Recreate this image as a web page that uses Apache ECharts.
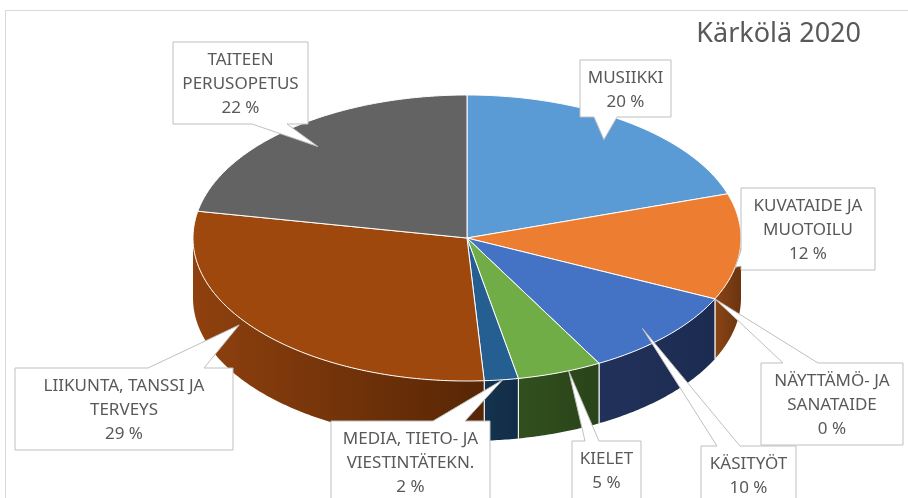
<!DOCTYPE html>
<html>
<head>
<meta charset="utf-8">
<script src="https://cdn.jsdelivr.net/npm/echarts@6/dist/echarts.min.js"></script>
<style>
  html, body { margin: 0; padding: 0; background: #fff; }
  #chart { width: 908px; height: 498px; }
</style>
</head>
<body>
<div id="chart"></div>
<script>
const categories = [
  "MUSIIKKI",
  "KUVATAIDE JA\nMUOTOILU",
  "NÄYTTÄMÖ- JA\nSANATAIDE",
  "KÄSITYÖT",
  "KIELET",
  "MEDIA, TIETO- JA\nVIESTINTÄTEKN.",
  "LIIKUNTA, TANSSI JA\nTERVEYS",
  "TAITEEN\nPERUSOPETUS",
];
const values = [20, 12, 0, 10, 5, 2, 29, 22];

const topColors = ["#5B9BD5", "#ED7D31", "#A5A5A5", "#4472C4", "#70AD47", "#255E91", "#9E480E", "#636363"];
// side wall shades, left -> right
const sideColors = [
  ["#3A6C9A", "#2F5A82"],
  ["#8A4515", "#6B3410"],
  ["#6E6E6E", "#5E5E5E"],
  ["#22315A", "#1C2B50"],
  ["#31501E", "#2A4419"],
  ["#15334F", "#122C46"],
  ["#8F410E", "#572605"],
  ["#474747", "#3A3A3A"],
];

// label callouts: box [x, y, w, h], side of the pointer, pointer base, where the tip sits in the slice
const labelLayout = [
  { box: [580, 60, 91, 57], side: "bottom", base: [594, 617], frac: 0.5, r: 0.85 },
  { box: [741, 188, 134, 82], side: "left", base: [250, 266], frac: 0.69, r: 1.0 },
  { box: [761, 363, 142, 82], side: "top", base: [783, 818], frac: 0, r: 1.0 },
  { box: [701, 446, 95, 80], side: "top", base: [717, 740], frac: 0.54, r: 0.9 },
  { box: [572, 441, 69, 80], side: "top", base: [585, 599], frac: 0.39, r: 1.0 },
  { box: [331, 421, 159, 100], side: "top", base: [433, 465], frac: 0.46, r: 1.0 },
  { box: [15, 368, 218, 82], side: "top", base: [148, 204], frac: 0.55, r: 1.03 },
  { box: [173, 42, 135, 82], side: "bottom", base: [252, 287], frac: 0.49, r: 0.84 },
];

const CX = 467, CY = 238, RX = 274, RY = 143, DEPTH = 60;
const total = values.reduce((a, b) => a + b, 0);
const startAngles = [];
let acc = 0;
values.forEach((v) => {
  startAngles.push((acc / total) * Math.PI * 2);
  acc += v;
});

function pt(t, r, dy) {
  return [CX + RX * r * Math.sin(t), CY - RY * r * Math.cos(t) + (dy || 0)];
}
function arc(t0, t1, dy) {
  const n = Math.max(2, Math.ceil((t1 - t0) / 0.01));
  const pts = [];
  for (let i = 0; i <= n; i++) pts.push(pt(t0 + ((t1 - t0) * i) / n, 1, dy));
  return pts;
}

function renderSlice(params, api) {
  const i = params.dataIndex;
  const v = api.value(0);
  const t0 = startAngles[i];
  const t1 = t0 + (v / total) * Math.PI * 2;
  const children = [];
  // only the front half of the side wall is visible
  const w0 = Math.max(t0, Math.PI / 2);
  const w1 = Math.min(t1, (Math.PI * 3) / 2);
  if (w1 > w0) {
    const top = arc(w0, w1, 0);
    const bot = arc(w0, w1, DEPTH).reverse();
    children.push({
      type: "polygon",
      shape: { points: top.concat(bot) },
      style: {
        fill: new echarts.graphic.LinearGradient(0, 0, 1, 0, [
          { offset: 0, color: sideColors[i][0] },
          { offset: 1, color: sideColors[i][1] },
        ]),
      },
    });
    [t0, t1].forEach((t) => {
      if (t > Math.PI / 2 && t < (Math.PI * 3) / 2) {
        const a = pt(t, 1, 0), b = pt(t, 1, DEPTH);
        children.push({
          type: "line",
          shape: { x1: a[0], y1: a[1], x2: b[0], y2: b[1] },
          style: { stroke: "#fff", lineWidth: 1 },
        });
      }
    });
  }
  if (v > 0) {
    children.push({
      type: "polygon",
      shape: { points: [[CX, CY]].concat(arc(t0, t1, 0)) },
      style: { fill: topColors[i], stroke: "#fff", lineWidth: 1 },
    });
  }
  return { type: "group", children: children };
}

function calloutPoints(lay, tip) {
  const [x, y, w, h] = lay.box;
  const [a, c] = lay.base;
  const pts = [[x, y]];
  if (lay.side === "top") pts.push([a, y], tip, [c, y]);
  pts.push([x + w, y]);
  if (lay.side === "right") pts.push([x + w, a], tip, [x + w, c]);
  pts.push([x + w, y + h]);
  if (lay.side === "bottom") pts.push([c, y + h], tip, [a, y + h]);
  pts.push([x, y + h]);
  if (lay.side === "left") pts.push([x, c], tip, [x, a]);
  return pts;
}

function renderLabel(params, api) {
  const i = params.dataIndex;
  const v = api.value(0);
  const lay = labelLayout[i];
  const t0 = startAngles[i];
  const span = (v / total) * Math.PI * 2;
  const tip = pt(t0 + span * lay.frac, lay.r, 0);
  const pct = Math.round((v / total) * 100) + " %";
  return {
    type: "group",
    children: [
      {
        type: "polygon",
        shape: { points: calloutPoints(lay, tip) },
        style: { fill: "#fff", stroke: "#BFBFBF", lineWidth: 1 },
      },
      {
        type: "text",
        style: {
          text: categories[i] + "\n" + pct,
          x: lay.box[0] + lay.box[2] / 2,
          y: lay.box[1] + 6,
          align: "center",
          verticalAlign: "top",
          fontSize: 17,
          lineHeight: 24,
          fontFamily: "Noto Sans",
          fill: "#595959",
        },
      },
    ],
  };
}

const chart = echarts.init(document.getElementById("chart"));
chart.setOption({
  animation: false,
  title: {
    text: "Kärkölä 2020",
    right: 42,
    top: 16,
    textStyle: { fontSize: 27, fontWeight: "normal", color: "#595959", fontFamily: "Noto Sans" },
  },
  graphic: [
    {
      type: "rect",
      shape: { x: 5.5, y: 10.5, width: 1000, height: 600 },
      style: { fill: "none", stroke: "#D9D9D9", lineWidth: 1 },
      z: -1,
    },
  ],
  series: [
    {
      type: "custom",
      coordinateSystem: "none",
      renderItem: renderSlice,
      data: values.map((v) => [v]),
      z: 2,
    },
    {
      type: "custom",
      coordinateSystem: "none",
      renderItem: renderLabel,
      data: values.map((v) => [v]),
      z: 5,
    },
  ],
});
</script>
</body>
</html>
